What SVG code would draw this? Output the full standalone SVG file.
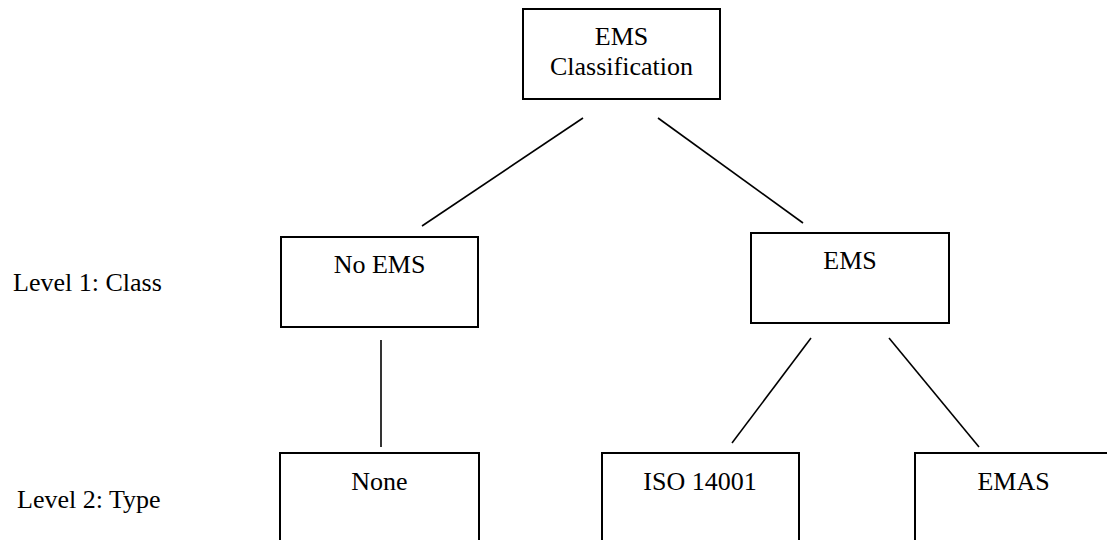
<svg xmlns="http://www.w3.org/2000/svg" width="1107" height="540" viewBox="0 0 1107 540">
<style>
.box{fill:#fff;stroke:#000;stroke-width:2}
.t{font-family:"Liberation Serif","Times New Roman",serif;font-size:26px;fill:#000}
.c{text-anchor:middle}
.ln{stroke:#000;stroke-width:1.6;fill:none}
</style>
<rect width="1107" height="540" fill="#fff"/>
<g id="connectors">
<line class="ln" x1="583" y1="118" x2="422" y2="226"/>
<line class="ln" x1="658" y1="118" x2="803" y2="223"/>
<line class="ln" x1="381" y1="340" x2="381" y2="447"/>
<line class="ln" x1="811" y1="338" x2="732" y2="443"/>
<line class="ln" x1="889" y1="338" x2="979" y2="447"/>
</g>
<g id="root">
<rect class="box" x="523" y="9" width="197" height="90"/>
<text class="t c" x="621.5" y="45">EMS</text>
<text class="t c" x="621.5" y="75">Classification</text>
</g>
<g id="noems">
<rect class="box" x="281" y="237" width="197" height="90"/>
<text class="t c" x="379.5" y="273">No EMS</text>
</g>
<g id="ems">
<rect class="box" x="751" y="233" width="198" height="90"/>
<text class="t c" x="850" y="269">EMS</text>
</g>
<g id="none">
<rect class="box" x="280" y="453" width="199" height="100"/>
<text class="t c" x="379.5" y="490">None</text>
</g>
<g id="iso">
<rect class="box" x="602" y="453" width="197" height="100"/>
<text class="t c" x="700" y="490">ISO 14001</text>
</g>
<g id="emas">
<rect class="box" x="915" y="453" width="197" height="100"/>
<text class="t c" x="1013.5" y="490">EMAS</text>
</g>
<g id="levels">
<text class="t" x="13" y="291">Level 1: Class</text>
<text class="t" x="17" y="508">Level 2: Type</text>
</g>
</svg>
